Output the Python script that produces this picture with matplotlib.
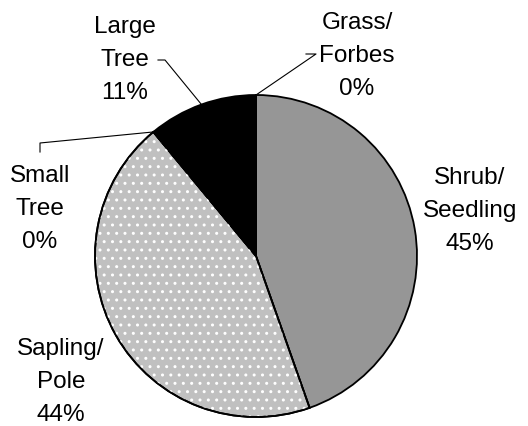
import numpy as np
import matplotlib
matplotlib.use("Agg")
import matplotlib.pyplot as plt
from matplotlib.patches import Wedge

categories = ["Shrub/\nSeedling", "Sapling/\nPole", "Small\nTree", "Large\nTree", "Grass/\nForbes"]
values = [44.6, 44.4, 0.0, 11.0, 0.0]
pct_labels = ["45%", "44%", "0%", "11%", "0%"]
colors = ["#969696", "#c0c0c0", "#ffffff", "#000000", "#ffffff"]

plt.rcParams['font.family'] = ['Liberation Sans', 'DejaVu Sans']

W, H = 528, 427
fig = plt.figure(figsize=(W / 100, H / 100), dpi=100)
ax = fig.add_axes([0, 0, 1, 1])

cx, cy, R = 256, H - 257, 161
wedges, _ = ax.pie(values, colors=colors, startangle=90, counterclock=False,
                   center=(cx, cy), radius=R,
                   wedgeprops=dict(edgecolor="black", linewidth=1.3))

# dotted texture on Sapling/Pole
w = wedges[1]
ax.add_patch(Wedge((cx, cy), R, w.theta1, w.theta2, facecolor="none",
                   edgecolor="white", linewidth=0, hatch="..", zorder=w.get_zorder() + 0.1))
ax.add_patch(Wedge((cx, cy), R, w.theta1, w.theta2, facecolor="none",
                   edgecolor="black", linewidth=1.3, zorder=w.get_zorder() + 0.2))

ax.set_xlim(0, W)
ax.set_ylim(0, H)
ax.set_aspect("equal")
ax.axis("off")

# label positions (pixel coords, top-left origin) – layout only
label_pos = {
    0: (470, 211),
    1: (61, 382),
    2: (40, 209),
    3: (125, 60),
    4: (357, 56),
}
leaders = {
    2: [(40, 153), (40, 144)],
    3: [(158, 61), (165, 61)],
    4: [(306, 55), (316, 55)],
}

for i, (cat, pct) in enumerate(zip(categories, pct_labels)):
    x, y = label_pos[i]
    ax.text(x, H - y, cat + "\n" + pct, ha="center", va="center",
            fontsize=17.5, linespacing=1.62, color="black")

for i, pts in leaders.items():
    wd = wedges[i]
    ang = np.deg2rad((wd.theta1 + wd.theta2) / 2)
    ex, ey = cx + R * np.cos(ang), cy + R * np.sin(ang)
    xs = [p[0] for p in pts] + [ex]
    ys = [H - p[1] for p in pts] + [ey]
    ax.plot(xs, ys, color="black", linewidth=0.8, zorder=5)

fig.savefig("out.png", dpi=100)
